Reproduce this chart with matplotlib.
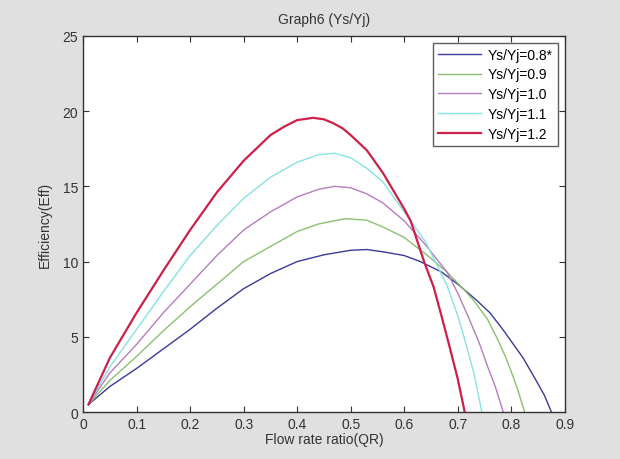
import matplotlib
matplotlib.use("Agg")
import matplotlib.pyplot as plt

plt.rcParams['font.family'] = ['Liberation Sans', 'DejaVu Sans']

# Efficiency curves for different Ys/Yj ratios
qr_08 = [0.01, 0.05, 0.1, 0.15, 0.2, 0.25, 0.3, 0.35, 0.4, 0.45, 0.5, 0.53, 0.56,
         0.6, 0.63, 0.67, 0.7, 0.733, 0.76, 0.784, 0.8, 0.822, 0.848, 0.862, 0.875]
eff_08 = [0.5, 1.7, 2.9, 4.2, 5.5, 6.9, 8.2, 9.2, 10.0, 10.45, 10.75, 10.8, 10.65,
          10.4, 10.0, 9.3, 8.5, 7.5, 6.6, 5.5, 4.7, 3.6, 2.0, 1.1, 0.0]

qr_09 = [0.01, 0.05, 0.1, 0.15, 0.2, 0.25, 0.3, 0.35, 0.4, 0.44, 0.49, 0.53, 0.56,
         0.6, 0.64, 0.68, 0.71, 0.73, 0.755, 0.775, 0.79, 0.803, 0.812, 0.825]
eff_09 = [0.5, 2.1, 3.7, 5.4, 7.0, 8.5, 10.0, 11.0, 12.0, 12.5, 12.85, 12.75, 12.3,
          11.6, 10.5, 9.3, 8.2, 7.4, 6.2, 4.8, 3.6, 2.4, 1.5, 0.0]

qr_10 = [0.01, 0.05, 0.1, 0.15, 0.2, 0.25, 0.3, 0.35, 0.4, 0.44, 0.47, 0.5, 0.53,
         0.56, 0.6, 0.64, 0.68, 0.7, 0.72, 0.74, 0.755, 0.77, 0.785]
eff_10 = [0.5, 2.6, 4.5, 6.6, 8.5, 10.4, 12.1, 13.3, 14.3, 14.8, 15.0, 14.9, 14.5,
          13.9, 12.7, 11.1, 9.3, 7.9, 6.3, 4.6, 3.1, 1.7, 0.0]

qr_11 = [0.01, 0.05, 0.1, 0.15, 0.2, 0.25, 0.3, 0.35, 0.4, 0.44, 0.47, 0.5, 0.53,
         0.56, 0.6, 0.64, 0.68, 0.7, 0.71, 0.72, 0.73, 0.745]
eff_11 = [0.5, 3.0, 5.5, 8.0, 10.4, 12.4, 14.2, 15.6, 16.6, 17.1, 17.2, 16.9, 16.2,
          15.3, 13.3, 11.3, 8.4, 6.4, 5.2, 3.9, 2.6, 0.0]

qr_12 = [0.01, 0.05, 0.1, 0.15, 0.2, 0.25, 0.3, 0.35, 0.375, 0.4, 0.43, 0.45, 0.467,
         0.485, 0.5, 0.53, 0.56, 0.6, 0.612, 0.637, 0.655, 0.671, 0.685, 0.7, 0.713]
eff_12 = [0.5, 3.6, 6.6, 9.4, 12.1, 14.6, 16.7, 18.4, 18.95, 19.4, 19.55, 19.45, 19.2,
          18.85, 18.4, 17.4, 15.9, 13.5, 12.7, 10.0, 8.3, 6.2, 4.3, 2.2, 0.0]

series = [
    (qr_08, eff_08, 'Ys/Yj=0.8*', '#3a3a98', 1.0),
    (qr_09, eff_09, 'Ys/Yj=0.9', '#8cc070', 1.0),
    (qr_10, eff_10, 'Ys/Yj=1.0', '#b67cc0', 1.0),
    (qr_11, eff_11, 'Ys/Yj=1.1', '#86e2e2', 1.0),
    (qr_12, eff_12, 'Ys/Yj=1.2', '#cc2048', 1.6),
]

x_ticks = [0, 0.1, 0.2, 0.3, 0.4, 0.5, 0.6, 0.7, 0.8, 0.9]
x_tick_labels = ['0', '0.1', '0.2', '0.3', '0.4', '0.5', '0.6', '0.7', '0.8', '0.9']
y_ticks = [0, 5, 10, 15, 20, 25]

fig = plt.figure(figsize=(6.2, 4.6), dpi=100, facecolor='#e0e0e0')
ax = fig.add_axes([0.134, 0.102, 0.777, 0.818])
ax.set_facecolor('white')

for qr, eff, label, color, lw in series:
    ax.plot(qr, eff, color=color, lw=lw, label=label)

ax.set_xlim(0, 0.9)
ax.set_ylim(0, 25)
ax.set_xticks(x_ticks)
ax.set_xticklabels(x_tick_labels)
ax.set_yticks(y_ticks)
ax.tick_params(direction='in', length=4, labelsize=10, colors='#333333',
               top=True, right=True, labeltop=False, labelright=False)
for s in ax.spines.values():
    s.set_color('#333333')
    s.set_linewidth(1.0)

ax.set_title('Graph6 (Ys/Yj)', fontsize=10, color='#333333', pad=9)
ax.set_xlabel('Flow rate ratio(QR)', fontsize=10, color='#333333', labelpad=1)
ax.set_ylabel('Efficiency(Eff)', fontsize=10, color='#333333', labelpad=8)

leg = ax.legend(loc='upper right', fontsize=10, frameon=True, fancybox=False,
                edgecolor='#333333', handlelength=3.1, handletextpad=0.5,
                borderaxespad=0.5, labelspacing=0.42, borderpad=0.35)
leg.get_frame().set_linewidth(1.0)

fig.savefig('out.png', dpi=100, facecolor=fig.get_facecolor())
